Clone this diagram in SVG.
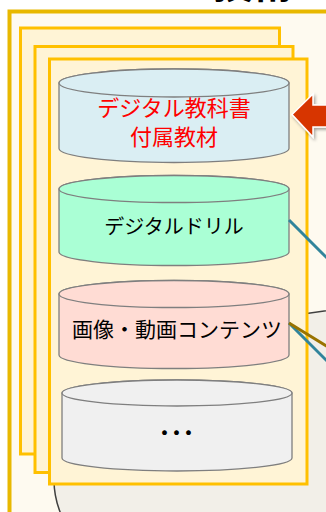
<svg xmlns="http://www.w3.org/2000/svg" width="326" height="512" viewBox="0 0 326 512">
<style>
.layer{fill:#FFF4D6;stroke:#FFC000;stroke-width:3}
.cyl{stroke:#7F7F7F;stroke-width:1.3}
.lbl{font-family:"Noto Sans CJK JP","Noto Sans",sans-serif;text-anchor:middle}
.conn{fill:none;stroke-width:3}
</style>
<defs>
<filter id="sh" x="-30%" y="-30%" width="160%" height="160%">
<feDropShadow dx="1.5" dy="2" stdDeviation="1.5" flood-color="#000" flood-opacity="0.35"/>
</filter>
</defs>
<text x="213" y="-2" font-family="Noto Sans CJK JP,sans-serif" font-size="40" font-weight="bold" fill="#000">技術</text>
<g id="outer-frame">
<rect x="9.5" y="11.5" width="340" height="520" fill="#FEFAF0" stroke="#E8B800" stroke-width="4"/>
</g>
<g id="cloud">
<ellipse cx="420" cy="480" rx="366" ry="175" fill="#F2EFE8" stroke="#404040" stroke-width="1.5"/>
</g>
<g id="layer1"><rect class="layer" x="20.5" y="28" width="259" height="426"/></g>
<g id="layer2"><rect class="layer" x="35" y="46.5" width="258" height="426"/></g>
<g id="layer3"><rect class="layer" x="49.5" y="59" width="257.5" height="425"/></g>
<g id="cyl-textbook">
<path class="cyl" fill="#DAEEF3" d="M59,83 A115,14 0 0 1 289,83 V148.5 A115,14 0 0 1 59,148.5 Z"/>
<ellipse class="cyl" fill="#DAEEF3" cx="174" cy="83" rx="115" ry="14"/>
<text class="lbl" x="174" y="116" font-size="22" fill="#FF0000">デジタル教科書</text>
<text class="lbl" x="174" y="145" font-size="22" fill="#FF0000">付属教材</text>
</g>
<g id="cyl-drill">
<path class="cyl" fill="#AAFFD5" d="M59,189 A115,13.5 0 0 1 289,189 V252 A115,13.5 0 0 1 59,252 Z"/>
<ellipse class="cyl" fill="#AAFFD5" cx="174" cy="189" rx="115" ry="13.5"/>
<text class="lbl" x="174" y="234" font-size="20" fill="#000">デジタルドリル</text>
</g>
<g id="cyl-media">
<path class="cyl" fill="#FFDCD4" d="M59,294 A115,13.5 0 0 1 289,294 V355 A115,13.5 0 0 1 59,355 Z"/>
<ellipse class="cyl" fill="#FFDCD4" cx="174" cy="294" rx="115" ry="13.5"/>
<text class="lbl" x="177" y="337" font-size="21" fill="#000">画像・動画コンテンツ</text>
</g>
<g id="cyl-etc">
<path class="cyl" fill="#F0F0F0" d="M62,393 A115,13 0 0 1 292,393 V458 A115,13 0 0 1 62,458 Z"/>
<ellipse class="cyl" fill="#F0F0F0" cx="177" cy="393" rx="115" ry="13"/>
<text class="lbl" x="176.5" y="431" font-size="36" dominant-baseline="central" fill="#000">…</text>
</g>
<g id="connectors">
<path class="conn" stroke="#31849B" d="M289,220 L328,259"/>
<path class="conn" stroke="#31849B" d="M289,323 L328,362"/>
<path class="conn" stroke="#997300" d="M289,323 L328,347"/>
</g>
<g id="arrow">
<path d="M292,114.5 L313,94 V105 H340 V127 H313 V137 Z" fill="#D73502" stroke="#FFFFFF" stroke-width="1.5" filter="url(#sh)"/>
</g>
</svg>
